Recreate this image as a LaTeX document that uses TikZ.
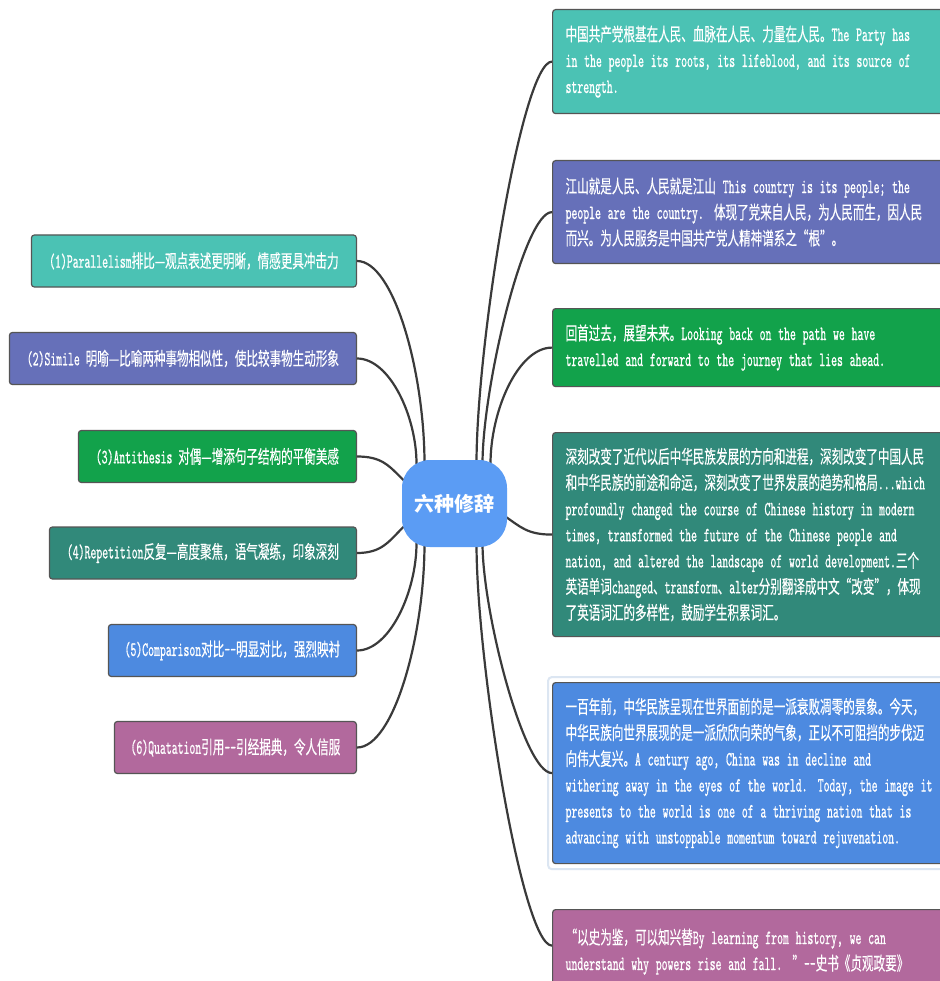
\documentclass[tikz,border=0pt]{standalone}
\usepackage{fontspec}
\setmainfont{lmmono10-regular.otf}[Scale=1.2, FakeStretch=0.55, FakeBold=0.6]
\newfontfamily\cjk{Noto Sans CJK SC}[Scale=1.08, FakeStretch=0.63, FakeBold=0.3]
\newfontfamily\cjkc{Noto Sans CJK SC}
\usetikzlibrary{calc}
\pgfdeclarelayer{bg}
\pgfsetlayers{bg,main}
% automatic switch between Latin and CJK fonts
\chardef\CJKcls=100
\newcount\mycnt
\mycnt="2E80
\loop
  \XeTeXcharclass\mycnt=\CJKcls
  \advance\mycnt by 1
\ifnum\mycnt<"A000 \repeat
\mycnt="FF00
\loop
  \XeTeXcharclass\mycnt=\CJKcls
  \advance\mycnt by 1
\ifnum\mycnt<"FFF0 \repeat
\XeTeXcharclass"2014=\CJKcls
\XeTeXcharclass"201C=\CJKcls
\XeTeXcharclass"201D=\CJKcls
\XeTeXinterchartoks 0 \CJKcls = {\cjk}
\XeTeXinterchartoks 4095 \CJKcls = {\cjk}
\XeTeXinterchartoks \CJKcls 0 = {\rmfamily}
\XeTeXinterchartoks \CJKcls 4095 = {\rmfamily}
\XeTeXinterchartokenstate=1

\definecolor{cteal}{HTML}{4BC2B4}
\definecolor{cslate}{HTML}{6670B9}
\definecolor{cgreen}{HTML}{12A24B}
\definecolor{cdteal}{HTML}{31897A}
\definecolor{cblue}{HTML}{4D8AE0}
\definecolor{cmauve}{HTML}{B2699D}
\definecolor{hubc}{HTML}{5B9CF4}
\definecolor{linec}{HTML}{3A3A3A}
\definecolor{boxline}{HTML}{555555}
\definecolor{selc}{HTML}{DCE6F2}

\tikzset{
  box/.style={draw=boxline, line width=1.2pt, rounded corners=3pt, text=white,
    font=\fontsize{17}{26}\selectfont, inner ysep=0pt},
  lbox/.style={box, anchor=east, minimum height=52pt, inner xsep=8pt, align=center},
  rbox/.style={box, anchor=north west, align=left, text width=394pt, inner xsep=13pt},
  hub/.style={fill=hubc, text=white, rounded corners=28pt, minimum width=105pt,
    minimum height=87pt, inner sep=0pt,
    font={\XeTeXinterchartokenstate=0 \cjkc\bfseries\fontsize{20}{24}\selectfont}},
  link/.style={draw=linec, line width=2.2pt},
}

\begin{document}
\begin{tikzpicture}[x=1pt,y=-1pt]
\useasboundingbox (0,0) rectangle (939,981);

% central topic
\node[hub] (c) at (454.5,503.5) {六种修辞};

% left branches
\node[lbox, fill=cteal, minimum width=325pt] (l1) at (357,261) {(1)Parallelism排比—观点表述更明晰，情感更具冲击力};
\node[lbox, fill=cslate, minimum width=347pt] (l2) at (357,358.5) {(2)Simile 明喻—比喻两种事物相似性，使比较事物生动形象};
\node[lbox, fill=cgreen, minimum width=278pt] (l3) at (357,456.5) {(3)Antithesis 对偶—增添句子结构的平衡美感};
\node[lbox, fill=cdteal, minimum width=307pt] (l4) at (357,553) {(4)Repetition反复—高度聚焦，语气凝练，印象深刻};
\node[lbox, fill=cblue, minimum width=248pt] (l5) at (357,650.5) {(5)Comparison对比-{}-明显对比，强烈映衬};
\node[lbox, fill=cmauve, minimum width=242pt] (l6) at (357,747.5) {(6)Quatation引用-{}-引经据典，令人信服};

% right branches
\node[rbox, fill=cteal, minimum height=104pt] (r1) at (552,9) {中国共产党根基在人民、血脉在人民、力量在人民。The Party has\\in the people its roots, its lifeblood, and its source of\\strength.};
\node[rbox, fill=cslate, minimum height=103pt] (r2) at (552,160) {江山就是人民、人民就是江山 This country is its people; the\\people are the country. 体现了党来自人民，为人民而生，因人民\\而兴。为人民服务是中国共产党人精神谱系之“根”。};
\node[rbox, fill=cgreen, minimum height=78pt] (r3) at (552,308) {回首过去，展望未来。Looking back on the path we have\\travelled and forward to the journey that lies ahead.};
\node[rbox, fill=cdteal, minimum height=204pt] (r4) at (552,432) {深刻改变了近代以后中华民族发展的方向和进程，深刻改变了中国人民\\和中华民族的前途和命运，深刻改变了世界发展的趋势和格局...which\\profoundly changed the course of Chinese history in modern\\times, transformed the future of the Chinese people and\\nation, and altered the landscape of world development.三个\\英语单词changed、transform、alter分别翻译成中文“改变”，体现\\了英语词汇的多样性，鼓励学生积累词汇。};
\node[rbox, fill=cblue, minimum height=181pt] (r5) at (552,682) {一百年前，中华民族呈现在世界面前的是一派衰败凋零的景象。今天，\\中华民族向世界展现的是一派欣欣向荣的气象，正以不可阻挡的步伐迈\\向伟大复兴。A century ago, China was in decline and\\withering away in the eyes of the world. Today, the image it\\presents to the world is one of a thriving nation that is\\advancing with unstoppable momentum toward rejuvenation.};
\node[rbox, fill=cmauve, minimum height=84pt] (r6) at (552,909) {“以史为鉴，可以知兴替By learning from history, we can\\understand why powers rise and fall. ”-{}-史书《贞观政要》};

\begin{pgfonlayer}{bg}
\fill[white] (0,0) rectangle (939,981);
\draw[selc, line width=2pt, rounded corners=4pt] ($(r5.north west)+(-4,-5)$) rectangle ($(r5.south east)+(4,5)$);
% left connectors
\draw[link] ($(c.north)+(-30,4)$) .. controls +(0,-91) and +(37,0) .. (l1.east);
\draw[link] ($(c.north)+(-38,4)$) .. controls +(0,-47) and +(33,0) .. (l2.east);
\draw[link] ($(c.west)+(2,-23)$) .. controls +(-15,-15) and +(25,0) .. (l3.east);
\draw[link] ($(c.west)+(2,23)$) .. controls +(-15,15) and +(25,0) .. (l4.east);
\draw[link] ($(c.south)+(-38,-4)$) .. controls +(0,48) and +(33,0) .. (l5.east);
\draw[link] ($(c.south)+(-30,-4)$) .. controls +(0,92) and +(37,0) .. (l6.east);
% right connectors
\draw[link] ($(c.north)+(22,4)$) .. controls +(0,-120) and +(-30,0) .. (r1.west);
\draw[link] ($(c.north)+(28,4)$) .. controls +(0,-76) and +(-28,0) .. (r2.west);
\draw[link] ($(c.north)+(36,4)$) .. controls +(0,-53) and +(-34,0) .. (r3.west);
\draw[link] ($(c.east)+(-2,13)$) .. controls +(15,10) and +(-25,0) .. (r4.west);
\draw[link] ($(c.south)+(28,-4)$) .. controls +(0,69) and +(-28,0) .. (r5.west);
\draw[link] ($(c.south)+(22,-4)$) .. controls +(0,120) and +(-30,0) .. ([yshift=6pt]r6.west);
\end{pgfonlayer}
\end{tikzpicture}
\end{document}
